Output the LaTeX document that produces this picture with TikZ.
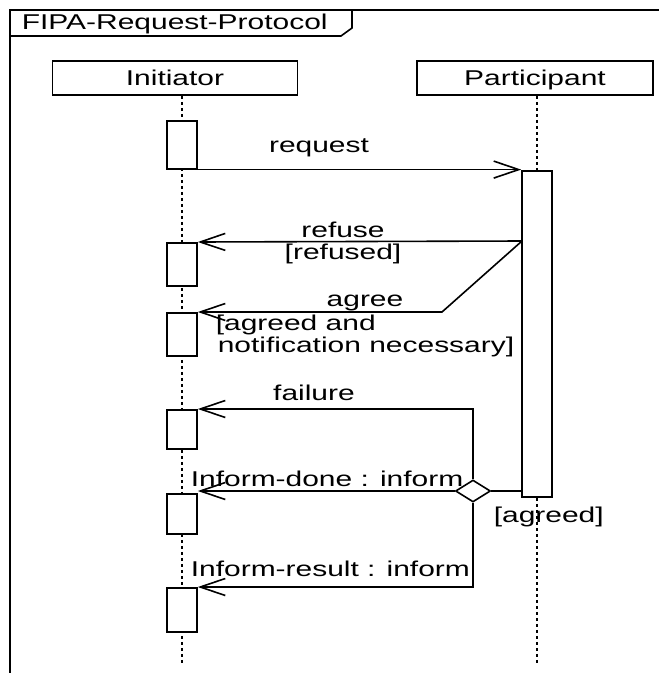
\documentclass[tikz,border=0pt]{standalone}
\usepackage{fontspec}
\setmainfont{Liberation Sans}[FakeStretch=1.4]
\usetikzlibrary{positioning,arrows.meta,shapes.geometric}

\begin{document}
\begin{tikzpicture}[
        x=1pt, y=-1pt,
        line width=1.6pt,
        font=\fontsize{21.4}{24}\selectfont,
        head/.style = {
            draw, minimum height=34pt, inner sep=0pt,
            text height=15.3pt, text depth=0pt},
        act/.style = {
            draw, fill=white, anchor=north,
            minimum width=30pt, inner sep=0pt},
        life/.style = {line width=1.8pt, dash pattern=on 3pt off 3pt},
        msg/.style = {-{Straight Barb[length=25pt,width=17pt]}},
        lbl/.style = {inner sep=0pt, anchor=base},
        lbll/.style = {inner sep=0pt, anchor=base west},
]
        \useasboundingbox (0,0) rectangle (659,673);
        % frame and its name tag
        \draw (659,10) -- (10,10) -- (10,673);
        \node[lbll] (frm) at (21,29) {FIPA-Request-Protocol};
        \draw (10,36) -- (341,36) -- (352,28) -- (352,10);
        % lifelines
        \node[head, minimum width=245pt] (ini) at (175,78) {Initiator};
        \node[head, minimum width=236pt] (par) at (535,78) {Participant};
        \coordinate (iniend) at (182,665);
        \coordinate (parend) at (537,665);
        \draw[life] (ini.south -| iniend) -- (iniend);
        \draw[life] (par.south -| parend) -- (parend);
        % activations
        \node[act, minimum height=48pt] (a1) at (182,120) {};
        \node[act, minimum height=43pt] (a2) at (182,242) {};
        \node[act, minimum height=43pt] (a3) at (182,312) {};
        \node[act, minimum height=39pt] (a4) at (182,409) {};
        \node[act, minimum height=40pt] (a5) at (182,493) {};
        \node[act, minimum height=44pt] (a6) at (182,587) {};
        \node[act, minimum height=326pt] (p1) at (537,170) {};
        \node[draw, diamond, fill=white, inner sep=0pt,
              minimum width=35pt, minimum height=22pt] (dec) at (473,491) {};
        \coordinate (split) at (522,241);
        \coordinate (bend) at (442,312);
        % messages
        \draw [msg] (a1.south east) -- (a1.south east -| p1.west);
        \draw [msg] (split) -- (a2.north east);
        \draw [msg] (split) -- (bend) -- (a3.north east);
        \draw [msg] (dec.north) -- (dec.north |- a4.north) -- (a4.north east);
        \draw [msg] (dec.west) -- (dec.west -| a5.east);
        \draw (p1.west |- dec) -- (dec.east);
        \draw [msg] (dec.south) -- (dec.south |- a6.north) -- (a6.north east);
        % labels
        \node[lbl] (lreq) at (319,152) {request};
        \node[lbl] (lref) at (343,237) {refuse};
        \node[lbl] (gref) at (343,259) {[refused]};
        \node[lbl] (lagr) at (365,306) {agree};
        \node[lbll] (gagr) at (215,330) {[agreed and};
        \node[lbll] (gagr2) at (217,352) {notification necessary]};
        \node[lbl] (lfail) at (314,400) {failure};
        \node[lbll] (ldone) at (190,486) {Inform-done : inform};
        \node[lbll] (lres) at (190,576) {Inform-result : inform};
        \node[lbll] (gok) at (493,522) {[agreed]};
\end{tikzpicture}
\end{document}
